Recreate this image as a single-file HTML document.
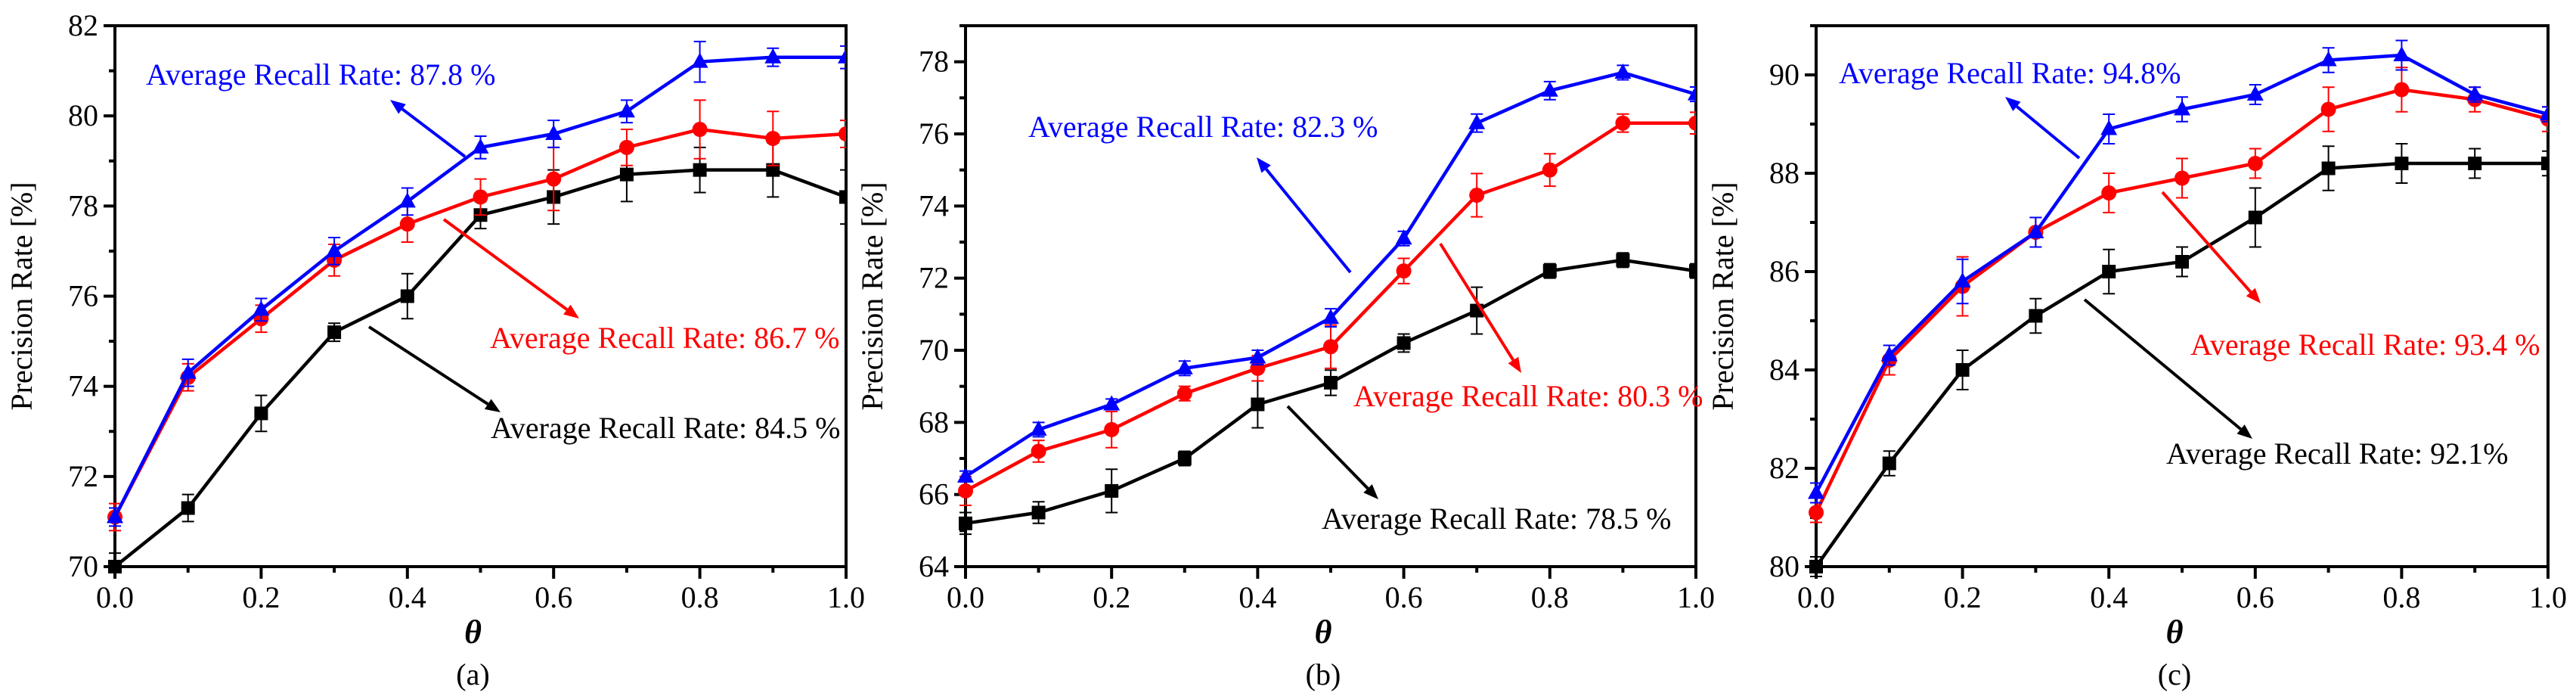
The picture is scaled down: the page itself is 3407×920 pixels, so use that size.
<!DOCTYPE html>
<html><head><meta charset="utf-8"><style>
html,body{margin:0;padding:0;background:#fff;}
svg, svg text{font-family:"Liberation Serif","Times New Roman",serif;}
svg{display:block;}
</style></head><body>
<svg id="fig" width="3407" height="920" viewBox="0 0 3407 920" xmlns="http://www.w3.org/2000/svg" font-family="Liberation Serif, serif"></svg>
<script>
const thetas=[0,0.1,0.2,0.3,0.4,0.5,0.6,0.7,0.8,0.9,1.0];
const xTickLabels=["0.0","0.2","0.4","0.6","0.8","1.0"];
const aBlack=[70.0,71.3,73.4,75.2,76.0,77.8,78.2,78.7,78.8,78.8,78.2];
const aBlackErr=[0.3,0.3,0.4,0.2,0.5,0.3,0.6,0.6,0.5,0.6,0.6];
const aRed=[71.1,74.2,75.5,76.8,77.6,78.2,78.6,79.3,79.7,79.5,79.6];
const aRedErr=[0.3,0.3,0.3,0.35,0.4,0.4,0.7,0.4,0.65,0.6,0.3];
const aBlue=[71.1,74.3,75.7,77.0,78.1,79.3,79.6,80.1,81.2,81.3,81.3];
const aBlueErr=[0.2,0.3,0.25,0.3,0.3,0.25,0.3,0.25,0.45,0.2,0.25];
const bBlack=[65.2,65.5,66.1,67.0,68.5,69.1,70.2,71.1,72.2,72.5,72.2];
const bBlackErr=[0.3,0.3,0.6,0.2,0.65,0.35,0.25,0.65,0.2,0.2,0.2];
const bRed=[66.1,67.2,67.8,68.8,69.5,70.1,72.2,74.3,75.0,76.3,76.3];
const bRedErr=[0.4,0.3,0.5,0.2,0.35,0.6,0.35,0.6,0.45,0.25,0.3];
const bBlue=[66.5,67.8,68.5,69.5,69.8,70.9,73.1,76.3,77.2,77.7,77.1];
const bBlueErr=[0.15,0.2,0.15,0.2,0.2,0.25,0.2,0.25,0.25,0.2,0.2];
const cBlack=[80.0,82.1,84.0,85.1,86.0,86.2,87.1,88.1,88.2,88.2,88.2];
const cBlackErr=[0.2,0.25,0.4,0.35,0.45,0.3,0.6,0.45,0.4,0.3,0.25];
const cRed=[81.1,84.2,85.7,86.8,87.6,87.9,88.2,89.3,89.7,89.5,89.1];
const cRedErr=[0.2,0.3,0.6,0.3,0.4,0.4,0.3,0.45,0.45,0.25,0.25];
const cBlue=[81.5,84.3,85.8,86.8,88.9,89.3,89.6,90.3,90.4,89.6,89.2];
const cBlueErr=[0.2,0.2,0.45,0.3,0.3,0.25,0.2,0.25,0.3,0.15,0.15];
const recallLabels=[["87.8 %","86.7 %","84.5 %"],["82.3 %","80.3 %","78.5 %"],["94.8%","93.4 %","92.1%"]];

const NS="http://www.w3.org/2000/svg";
const FONT='"Liberation Serif", serif';
const svg=document.getElementById('fig');
function mk(tag,attrs,parent,text){const e=document.createElementNS(NS,tag);for(const k in attrs)e.setAttribute(k,attrs[k]);if(text!==undefined){e.textContent=text;e.style.fontFamily=FONT;}(parent||svg).appendChild(e);return e;}

const panels=[
 {id:'a',L:152,R:1119,T:34,B:749,ymin:70,ymax:82,yticks:[70,72,74,76,78,80,82],
  series:[[aBlack,aBlackErr],[aRed,aRedErr],[aBlue,aBlueErr]],
  ann:[{t:[193,112],ar:[615,207,516,132]},{t:[648,460],ar:[587,290,766,421]},{t:[649,579],ar:[488,432,662,545]}]},
 {id:'b',L:1277,R:2243,T:34,B:749,ymin:64,ymax:79,yticks:[64,66,68,70,72,74,76,78],
  series:[[bBlack,bBlackErr],[bRed,bRedErr],[bBlue,bBlueErr]],
  ann:[{t:[1360,181],ar:[1786,360,1662,208]},{t:[1790,537],ar:[1905,322,2012,493]},{t:[1748,699],ar:[1703,537,1823,660]}]},
 {id:'c',L:2402,R:3370,T:34,B:749,ymin:80,ymax:91,yticks:[80,82,84,86,88,90],
  series:[[cBlack,cBlackErr],[cRed,cRedErr],[cBlue,cBlueErr]],
  ann:[{t:[2432,110],ar:[2750,209,2652,128]},{t:[2897,469],ar:[2860,254,2990,401]},{t:[2865,613],ar:[2757,396,2979,580]}]}
];
const colors=['#000000','#ff0000','#0000ff'];
const names=['black','red','blue'];
const annOrder=[2,1,0];

panels.forEach((p,pi)=>{
  const g=mk('g',{});
  
  
  const X=v=>p.L+(v-0)/(1-0)*(p.R-p.L);
  const Y=v=>p.B-(v-p.ymin)/(p.ymax-p.ymin)*(p.B-p.T);
  const fr=mk('rect',{x:p.L,y:p.T,width:p.R-p.L,height:p.B-p.T,fill:'none',stroke:'#000','stroke-width':4},g);
  
  
  for(let v=p.ymin;v<=p.ymax;v++){
    const major=p.yticks.includes(v);
    mk('line',{x1:p.L,x2:p.L-(major?15:8),y1:Y(v),y2:Y(v),stroke:'#000','stroke-width':4},g);
  }
  p.yticks.forEach(v=>{
    const t=mk('text',{x:p.L-22,y:Y(v)+13,'text-anchor':'end','font-size':40},g,String(v));
    
    
  });
  thetas.forEach((v,i)=>{
    const major=i%2===0;
    mk('line',{x1:X(v),x2:X(v),y1:p.B,y2:p.B+(major?16:8),stroke:'#000','stroke-width':4},g);
  });
  xTickLabels.forEach(s=>{
    const t=mk('text',{x:X(parseFloat(s)),y:p.B+54,'text-anchor':'middle','font-size':40},g,s);
    
    
  });
  const cx=(p.L+p.R)/2;
  const xt=mk('text',{x:cx-10,y:850,'text-anchor':'middle','font-size':44,'font-style':'italic','font-weight':'bold'},g,'θ');
  
  
  const cap=mk('text',{x:cx-10,y:905,'text-anchor':'middle','font-size':40},g,'('+p.id+')');
  
  
  const yl=mk('text',{x:0,y:0,'text-anchor':'middle','font-size':40,transform:`translate(${p.L-110},${(p.T+p.B)/2}) rotate(-90)`},g,'Precision Rate [%]');
  
  
  const cp=mk('clipPath',{id:'clip'+p.id},g);
  mk('rect',{x:p.L-14,y:p.T,width:p.R-p.L+14,height:p.B-p.T+14},cp);
  const sg=mk('g',{'clip-path':`url(#clip${p.id})`},g);
  p.series.forEach((s,si)=>{
    const [vals,errs]=s;const col=colors[si];
    const sgrp=mk('g',{},sg);
    
    
    vals.forEach((v,i)=>{
      const x=X(thetas[i]),y1=Y(v+errs[i]),y2=Y(v-errs[i]);
      mk('path',{d:`M${x},${y1}V${y2}M${x-8},${y1}H${x+8}M${x-8},${y2}H${x+8}`,stroke:col,'stroke-width':2,fill:'none'},sgrp);
    });
    const pl=mk('polyline',{points:vals.map((v,i)=>X(thetas[i])+','+Y(v)).join(' '),fill:'none',stroke:col,'stroke-width':4.5},sgrp);
    
    
    vals.forEach((v,i)=>{
      const x=X(thetas[i]),y=Y(v);let m;
      if(si===0)m=mk('rect',{x:x-9,y:y-9,width:18,height:18,fill:col},sgrp);
      else if(si===1)m=mk('circle',{cx:x,cy:y,r:10,fill:col},sgrp);
      else m=mk('path',{d:`M${x},${y-12}L${x+11},${y+8}L${x-11},${y+8}Z`,fill:col},sgrp);
      
      
    });
  });
  p.ann.forEach((a,ai)=>{
    const si=annOrder[ai];const col=colors[si];
    const [x1,y1,x2,y2]=a.ar;
    const ang=Math.atan2(y2-y1,x2-x1);
    const hl=20,hw=8;
    const bx=x2-hl*Math.cos(ang),by=y2-hl*Math.sin(ang);
    const ag=mk('g',{},g);
    
    
    mk('line',{x1,y1,x2:bx,y2:by,stroke:col,'stroke-width':4},ag);
    mk('path',{d:`M${x2},${y2}L${bx+hw*Math.sin(ang)},${by-hw*Math.cos(ang)}L${bx-hw*Math.sin(ang)},${by+hw*Math.cos(ang)}Z`,fill:col},ag);
    const t=mk('text',{x:a.t[0],y:a.t[1],'font-size':40,fill:col},g,'Average Recall Rate: '+recallLabels[pi][ai]);
    
    
  });
});
</script>
</body></html>
